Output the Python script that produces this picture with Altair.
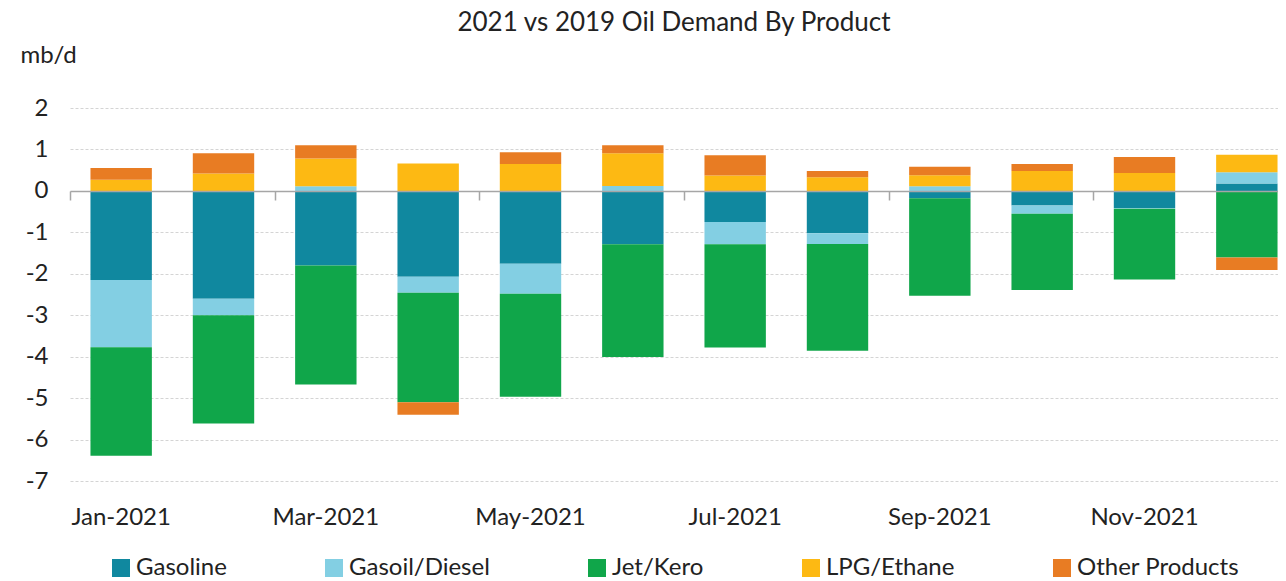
import altair as alt
import pandas as pd

months = ["Jan-2021", "Feb-2021", "Mar-2021", "Apr-2021", "May-2021", "Jun-2021",
          "Jul-2021", "Aug-2021", "Sep-2021", "Oct-2021", "Nov-2021", "Dec-2021"]
series = ["Gasoline", "Gasoil/Diesel", "Jet/Kero", "LPG/Ethane", "Other Products"]
colors = ["#10889f", "#83cfe3", "#10a64a", "#fdb913", "#e87c23"]

gasoline = [-2.15, -2.60, -1.80, -2.07, -1.76, -1.29, -0.75, -1.02, -0.18, -0.35, -0.41, 0.18]
diesel = [-1.62, -0.40, 0.11, -0.39, -0.72, 0.12, -0.54, -0.26, 0.11, -0.20, -0.02, 0.27]
jet = [-2.62, -2.61, -2.87, -2.64, -2.49, -2.72, -2.49, -2.58, -2.35, -1.84, -1.71, -1.61]
lpg = [0.27, 0.42, 0.67, 0.66, 0.65, 0.79, 0.37, 0.33, 0.27, 0.48, 0.43, 0.42]
other = [0.28, 0.49, 0.32, -0.30, 0.28, 0.19, 0.49, 0.15, 0.20, 0.17, 0.39, -0.30]

tick_months = ["Jan-2021", "Mar-2021", "May-2021", "Jul-2021", "Sep-2021", "Nov-2021"]
y_ticks = [-7, -6, -5, -4, -3, -2, -1, 0, 1, 2]

rows = []
for name, vals in zip(series, [gasoline, diesel, jet, lpg, other]):
    for m, v in zip(months, vals):
        rows.append({"month": m, "product": name, "value": v, "idx": series.index(name)})
df = pd.DataFrame(rows)

FONT = "Lato"
TXT = "#222222"

xscale = alt.Scale(domain=months, paddingInner=0.4, paddingOuter=0.2, range=[0, 1228])
yscale = alt.Scale(domain=[-7, 2], nice=False, zero=False)

yenc = alt.Y("value:Q", stack="zero", scale=yscale,
             axis=alt.Axis(values=y_ticks, title="mb/d", titleAngle=0, titleX=-50, titleY=-53,
                           titleAlign="left", titleBaseline="middle", titleFontWeight="normal",
                           titleFontSize=24, titleFont=FONT, titleColor=TXT,
                           labelExpr="toString(datum.value)",
                           labelFont=FONT, labelFontSize=24, labelColor=TXT, labelPadding=22,
                           ticks=False, domain=False, grid=True, gridColor="#d4d4d4",
                           gridDash=[3, 2], gridWidth=1))

color = alt.Color("product:N", scale=alt.Scale(domain=series, range=colors),
                  legend=alt.Legend(title=None, orient="none", direction="horizontal",
                                    legendX=39, legendY=448, symbolType="square", symbolSize=324,
                                    symbolStrokeWidth=0, labelFont=FONT, labelFontSize=24,
                                    labelColor=TXT, columnPadding=95, labelOffset=3, padding=0,
                                    labelLimit=400))

bars = alt.Chart(df).mark_bar(strokeWidth=0).encode(
    x=alt.X("month:N", sort=months, scale=xscale, title=None,
            axis=alt.Axis(values=tick_months, labelAngle=0, labelFont=FONT, labelFontSize=24,
                          labelColor=TXT, labelPadding=24, ticks=False, tickSize=0,
                          domain=False, grid=False, orient="bottom")),
    y=yenc,
    color=color,
    order=alt.Order("idx:Q", sort="ascending"),
)

zero_axis = alt.Chart(df).mark_bar(opacity=0).encode(
    x=alt.X("month:N", sort=months, scale=xscale, title=None,
            axis=alt.Axis(values=tick_months, labels=False, ticks=True, tickSize=9,
                          tickColor="#a6a6a6", tickWidth=1.5, bandPosition=0, tickOffset=-20.5,
                          domain=True, domainColor="#a6a6a6", domainWidth=1.5, grid=False,
                          orient="bottom", offset=-290, zindex=1)),
    y=yenc,
    order=alt.Order("idx:Q", sort="ascending"),
)

chart = alt.layer(bars, zero_axis).resolve_axis(x="independent").properties(
    width=1208, height=373,
    title=alt.TitleParams("2021 vs 2019 Oil Demand By Product", font=FONT, fontSize=26,
                          fontWeight="normal", color=TXT, anchor="middle", frame="group",
                          offset=7),
    autosize=alt.AutoSizeParams(type="none"),
    padding={"left": 62, "top": 100, "right": 0, "bottom": 100},
).configure_view(stroke=None)

chart.save("out.html", embed_options={"renderer": "svg", "actions": False})
